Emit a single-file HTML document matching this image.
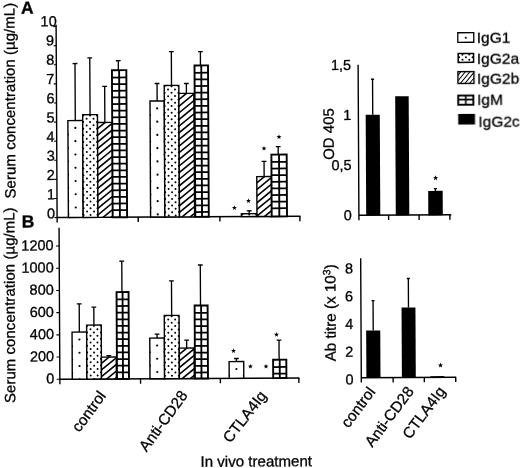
<!DOCTYPE html>
<html><head><meta charset="utf-8"><title>Figure</title>
<style>
html,body{margin:0;padding:0;background:#fff;}
svg{display:block;font-family:"Liberation Sans", sans-serif;}
text{stroke:#000;stroke-width:0.3px;}
</style></head>
<body>
<svg width="520" height="468" viewBox="0 0 520 468">
<rect width="520" height="468" fill="#fff"/>
<defs><filter id="soft" x="0" y="0" width="520" height="468" filterUnits="userSpaceOnUse"><feGaussianBlur stdDeviation="0.38"/></filter></defs>
<g filter="url(#soft)">
<g transform="rotate(-0.3 260.0 234.0)">
<path d="M57.2,23.6 V221.4 M56.6,216.5 H300.6" stroke="#000" stroke-width="1.4" fill="none"/>
<path d="M138.3,216.5 V221.4" stroke="#000" stroke-width="1.4"/>
<path d="M220.0,216.5 V221.4" stroke="#000" stroke-width="1.4"/>
<path d="M300.0,216.5 V221.4" stroke="#000" stroke-width="1.4"/>
<path d="M57.2,216.50 h-2.6" stroke="#000" stroke-width="1.1"/>
<text x="55.20" y="217.40" font-size="14.5" text-anchor="end" font-family='"Liberation Sans", sans-serif'>0</text>
<path d="M57.2,197.40 h-2.6" stroke="#000" stroke-width="1.1"/>
<text x="55.20" y="198.18" font-size="14.5" text-anchor="end" font-family='"Liberation Sans", sans-serif'>1</text>
<path d="M57.2,178.30 h-2.6" stroke="#000" stroke-width="1.1"/>
<text x="55.20" y="178.96" font-size="14.5" text-anchor="end" font-family='"Liberation Sans", sans-serif'>2</text>
<path d="M57.2,159.20 h-2.6" stroke="#000" stroke-width="1.1"/>
<text x="55.20" y="159.74" font-size="14.5" text-anchor="end" font-family='"Liberation Sans", sans-serif'>3</text>
<path d="M57.2,140.10 h-2.6" stroke="#000" stroke-width="1.1"/>
<text x="55.20" y="140.52" font-size="14.5" text-anchor="end" font-family='"Liberation Sans", sans-serif'>4</text>
<path d="M57.2,121.00 h-2.6" stroke="#000" stroke-width="1.1"/>
<text x="55.20" y="121.30" font-size="14.5" text-anchor="end" font-family='"Liberation Sans", sans-serif'>5</text>
<path d="M57.2,101.90 h-2.6" stroke="#000" stroke-width="1.1"/>
<text x="55.20" y="102.08" font-size="14.5" text-anchor="end" font-family='"Liberation Sans", sans-serif'>6</text>
<path d="M57.2,82.80 h-2.6" stroke="#000" stroke-width="1.1"/>
<text x="55.20" y="82.86" font-size="14.5" text-anchor="end" font-family='"Liberation Sans", sans-serif'>7</text>
<path d="M57.2,63.70 h-2.6" stroke="#000" stroke-width="1.1"/>
<text x="55.20" y="63.64" font-size="14.5" text-anchor="end" font-family='"Liberation Sans", sans-serif'>8</text>
<path d="M57.2,44.60 h-2.6" stroke="#000" stroke-width="1.1"/>
<text x="55.20" y="44.42" font-size="14.5" text-anchor="end" font-family='"Liberation Sans", sans-serif'>9</text>
<path d="M57.2,25.50 h-2.6" stroke="#000" stroke-width="1.1"/>
<text x="57.80" y="25.20" font-size="14.5" text-anchor="end" font-family='"Liberation Sans", sans-serif'>10</text>
<path d="M75.89,119.59 V62.59 M73.49,62.59 H78.29" stroke="#000" stroke-width="1.35" fill="none"/>
<rect x="68.49" y="119.59" width="14.80" height="96.91" fill="#fff"/>
<clipPath id="c1"><rect x="68.49" y="119.59" width="14.80" height="96.91"/></clipPath>
<g clip-path="url(#c1)">
<g fill="#000"><circle cx="75.89" cy="126.99" r="1.1"/><circle cx="68.49" cy="133.62" r="1.0"/><circle cx="83.29" cy="133.62" r="1.0"/><circle cx="75.89" cy="140.25" r="1.1"/><circle cx="68.49" cy="146.88" r="1.0"/><circle cx="83.29" cy="146.88" r="1.0"/><circle cx="75.89" cy="153.51" r="1.1"/><circle cx="68.49" cy="160.14" r="1.0"/><circle cx="83.29" cy="160.14" r="1.0"/><circle cx="75.89" cy="166.77" r="1.1"/><circle cx="68.49" cy="173.40" r="1.0"/><circle cx="83.29" cy="173.40" r="1.0"/><circle cx="75.89" cy="180.03" r="1.1"/><circle cx="68.49" cy="186.66" r="1.0"/><circle cx="83.29" cy="186.66" r="1.0"/><circle cx="75.89" cy="193.29" r="1.1"/><circle cx="68.49" cy="199.92" r="1.0"/><circle cx="83.29" cy="199.92" r="1.0"/><circle cx="75.89" cy="206.55" r="1.1"/><circle cx="68.49" cy="213.18" r="1.0"/><circle cx="83.29" cy="213.18" r="1.0"/></g>
</g>
<rect x="68.49" y="119.59" width="14.80" height="96.91" fill="none" stroke="#000" stroke-width="1.4"/>
<path d="M90.69,113.77 V56.97 M88.29,56.97 H93.09" stroke="#000" stroke-width="1.35" fill="none"/>
<rect x="83.29" y="113.77" width="14.80" height="102.73" fill="#fff"/>
<clipPath id="c2"><rect x="83.29" y="113.77" width="14.80" height="102.73"/></clipPath>
<g clip-path="url(#c2)">
<g fill="#000"><circle cx="83.79" cy="114.54" r="1.0"/><circle cx="90.69" cy="114.54" r="1.0"/><circle cx="97.59" cy="114.54" r="1.0"/><circle cx="87.24" cy="117.86" r="1.0"/><circle cx="94.14" cy="117.86" r="1.0"/><circle cx="83.79" cy="121.17" r="1.0"/><circle cx="90.69" cy="121.17" r="1.0"/><circle cx="97.59" cy="121.17" r="1.0"/><circle cx="87.24" cy="124.49" r="1.0"/><circle cx="94.14" cy="124.49" r="1.0"/><circle cx="83.79" cy="127.80" r="1.0"/><circle cx="90.69" cy="127.80" r="1.0"/><circle cx="97.59" cy="127.80" r="1.0"/><circle cx="87.24" cy="131.12" r="1.0"/><circle cx="94.14" cy="131.12" r="1.0"/><circle cx="83.79" cy="134.43" r="1.0"/><circle cx="90.69" cy="134.43" r="1.0"/><circle cx="97.59" cy="134.43" r="1.0"/><circle cx="87.24" cy="137.75" r="1.0"/><circle cx="94.14" cy="137.75" r="1.0"/><circle cx="83.79" cy="141.06" r="1.0"/><circle cx="90.69" cy="141.06" r="1.0"/><circle cx="97.59" cy="141.06" r="1.0"/><circle cx="87.24" cy="144.38" r="1.0"/><circle cx="94.14" cy="144.38" r="1.0"/><circle cx="83.79" cy="147.69" r="1.0"/><circle cx="90.69" cy="147.69" r="1.0"/><circle cx="97.59" cy="147.69" r="1.0"/><circle cx="87.24" cy="151.01" r="1.0"/><circle cx="94.14" cy="151.01" r="1.0"/><circle cx="83.79" cy="154.32" r="1.0"/><circle cx="90.69" cy="154.32" r="1.0"/><circle cx="97.59" cy="154.32" r="1.0"/><circle cx="87.24" cy="157.64" r="1.0"/><circle cx="94.14" cy="157.64" r="1.0"/><circle cx="83.79" cy="160.95" r="1.0"/><circle cx="90.69" cy="160.95" r="1.0"/><circle cx="97.59" cy="160.95" r="1.0"/><circle cx="87.24" cy="164.27" r="1.0"/><circle cx="94.14" cy="164.27" r="1.0"/><circle cx="83.79" cy="167.58" r="1.0"/><circle cx="90.69" cy="167.58" r="1.0"/><circle cx="97.59" cy="167.58" r="1.0"/><circle cx="87.24" cy="170.90" r="1.0"/><circle cx="94.14" cy="170.90" r="1.0"/><circle cx="83.79" cy="174.21" r="1.0"/><circle cx="90.69" cy="174.21" r="1.0"/><circle cx="97.59" cy="174.21" r="1.0"/><circle cx="87.24" cy="177.53" r="1.0"/><circle cx="94.14" cy="177.53" r="1.0"/><circle cx="83.79" cy="180.84" r="1.0"/><circle cx="90.69" cy="180.84" r="1.0"/><circle cx="97.59" cy="180.84" r="1.0"/><circle cx="87.24" cy="184.16" r="1.0"/><circle cx="94.14" cy="184.16" r="1.0"/><circle cx="83.79" cy="187.47" r="1.0"/><circle cx="90.69" cy="187.47" r="1.0"/><circle cx="97.59" cy="187.47" r="1.0"/><circle cx="87.24" cy="190.79" r="1.0"/><circle cx="94.14" cy="190.79" r="1.0"/><circle cx="83.79" cy="194.10" r="1.0"/><circle cx="90.69" cy="194.10" r="1.0"/><circle cx="97.59" cy="194.10" r="1.0"/><circle cx="87.24" cy="197.42" r="1.0"/><circle cx="94.14" cy="197.42" r="1.0"/><circle cx="83.79" cy="200.73" r="1.0"/><circle cx="90.69" cy="200.73" r="1.0"/><circle cx="97.59" cy="200.73" r="1.0"/><circle cx="87.24" cy="204.05" r="1.0"/><circle cx="94.14" cy="204.05" r="1.0"/><circle cx="83.79" cy="207.36" r="1.0"/><circle cx="90.69" cy="207.36" r="1.0"/><circle cx="97.59" cy="207.36" r="1.0"/><circle cx="87.24" cy="210.68" r="1.0"/><circle cx="94.14" cy="210.68" r="1.0"/><circle cx="83.79" cy="213.99" r="1.0"/><circle cx="90.69" cy="213.99" r="1.0"/><circle cx="97.59" cy="213.99" r="1.0"/><circle cx="87.24" cy="217.31" r="1.0"/><circle cx="94.14" cy="217.31" r="1.0"/></g>
</g>
<rect x="83.29" y="113.77" width="14.80" height="102.73" fill="none" stroke="#000" stroke-width="1.4"/>
<path d="M105.44,121.64 V85.54 M103.04,85.54 H107.84" stroke="#000" stroke-width="1.35" fill="none"/>
<rect x="98.09" y="121.64" width="14.70" height="94.86" fill="#fff"/>
<clipPath id="c3"><rect x="98.09" y="121.64" width="14.70" height="94.86"/></clipPath>
<g clip-path="url(#c3)">
<path d="M97.09,108.76 L113.79,95.23 M97.09,115.39 L113.79,101.86 M97.09,122.02 L113.79,108.49 M97.09,128.65 L113.79,115.12 M97.09,135.28 L113.79,121.75 M97.09,141.91 L113.79,128.38 M97.09,148.54 L113.79,135.01 M97.09,155.17 L113.79,141.64 M97.09,161.80 L113.79,148.27 M97.09,168.43 L113.79,154.90 M97.09,175.06 L113.79,161.53 M97.09,181.69 L113.79,168.16 M97.09,188.32 L113.79,174.79 M97.09,194.95 L113.79,181.42 M97.09,201.58 L113.79,188.05 M97.09,208.21 L113.79,194.68 M97.09,214.84 L113.79,201.31 M97.09,221.47 L113.79,207.94 M97.09,228.10 L113.79,214.57" stroke="#000" stroke-width="1.6" fill="none"/>
</g>
<rect x="98.09" y="121.64" width="14.70" height="94.86" fill="none" stroke="#000" stroke-width="1.4"/>
<path d="M119.19,69.47 V59.97 M116.79,59.97 H121.59" stroke="#000" stroke-width="1.35" fill="none"/>
<rect x="112.79" y="69.47" width="14.40" height="147.03" fill="#fff"/>
<clipPath id="c4"><rect x="112.79" y="69.47" width="14.40" height="147.03"/></clipPath>
<g clip-path="url(#c4)">
<path d="M119.99,69.47 V216.50" stroke="#000" stroke-width="1.85" fill="none"/>
<path d="M112.79,76.77 H127.19 M112.79,83.40 H127.19 M112.79,90.03 H127.19 M112.79,96.66 H127.19 M112.79,103.29 H127.19 M112.79,109.92 H127.19 M112.79,116.55 H127.19 M112.79,123.18 H127.19 M112.79,129.81 H127.19 M112.79,136.44 H127.19 M112.79,143.07 H127.19 M112.79,149.70 H127.19 M112.79,156.33 H127.19 M112.79,162.96 H127.19 M112.79,169.59 H127.19 M112.79,176.22 H127.19 M112.79,182.85 H127.19 M112.79,189.48 H127.19 M112.79,196.11 H127.19 M112.79,202.74 H127.19 M112.79,209.37 H127.19" stroke="#000" stroke-width="1.75" fill="none"/>
</g>
<rect x="112.79" y="69.47" width="14.40" height="147.03" fill="none" stroke="#000" stroke-width="1.9"/>
<path d="M157.84,100.45 V82.97 M155.44,82.97 H160.24" stroke="#000" stroke-width="1.35" fill="none"/>
<rect x="150.69" y="100.45" width="14.30" height="116.05" fill="#fff"/>
<clipPath id="c5"><rect x="150.69" y="100.45" width="14.30" height="116.05"/></clipPath>
<g clip-path="url(#c5)">
<g fill="#000"><circle cx="157.84" cy="107.85" r="1.1"/><circle cx="150.69" cy="114.48" r="1.0"/><circle cx="164.99" cy="114.48" r="1.0"/><circle cx="157.84" cy="121.11" r="1.1"/><circle cx="150.69" cy="127.74" r="1.0"/><circle cx="164.99" cy="127.74" r="1.0"/><circle cx="157.84" cy="134.37" r="1.1"/><circle cx="150.69" cy="141.00" r="1.0"/><circle cx="164.99" cy="141.00" r="1.0"/><circle cx="157.84" cy="147.63" r="1.1"/><circle cx="150.69" cy="154.26" r="1.0"/><circle cx="164.99" cy="154.26" r="1.0"/><circle cx="157.84" cy="160.89" r="1.1"/><circle cx="150.69" cy="167.52" r="1.0"/><circle cx="164.99" cy="167.52" r="1.0"/><circle cx="157.84" cy="174.15" r="1.1"/><circle cx="150.69" cy="180.78" r="1.0"/><circle cx="164.99" cy="180.78" r="1.0"/><circle cx="157.84" cy="187.41" r="1.1"/><circle cx="150.69" cy="194.04" r="1.0"/><circle cx="164.99" cy="194.04" r="1.0"/><circle cx="157.84" cy="200.67" r="1.1"/><circle cx="150.69" cy="207.30" r="1.0"/><circle cx="164.99" cy="207.30" r="1.0"/><circle cx="157.84" cy="213.93" r="1.1"/><circle cx="150.69" cy="220.56" r="1.0"/><circle cx="164.99" cy="220.56" r="1.0"/></g>
</g>
<rect x="150.69" y="100.45" width="14.30" height="116.05" fill="none" stroke="#000" stroke-width="1.4"/>
<path d="M172.29,84.94 V51.12 M169.89,51.12 H174.69" stroke="#000" stroke-width="1.35" fill="none"/>
<rect x="164.99" y="84.94" width="14.60" height="131.56" fill="#fff"/>
<clipPath id="c6"><rect x="164.99" y="84.94" width="14.60" height="131.56"/></clipPath>
<g clip-path="url(#c6)">
<g fill="#000"><circle cx="165.39" cy="85.71" r="1.0"/><circle cx="172.29" cy="85.71" r="1.0"/><circle cx="179.19" cy="85.71" r="1.0"/><circle cx="168.84" cy="89.03" r="1.0"/><circle cx="175.74" cy="89.03" r="1.0"/><circle cx="165.39" cy="92.34" r="1.0"/><circle cx="172.29" cy="92.34" r="1.0"/><circle cx="179.19" cy="92.34" r="1.0"/><circle cx="168.84" cy="95.66" r="1.0"/><circle cx="175.74" cy="95.66" r="1.0"/><circle cx="165.39" cy="98.97" r="1.0"/><circle cx="172.29" cy="98.97" r="1.0"/><circle cx="179.19" cy="98.97" r="1.0"/><circle cx="168.84" cy="102.29" r="1.0"/><circle cx="175.74" cy="102.29" r="1.0"/><circle cx="165.39" cy="105.60" r="1.0"/><circle cx="172.29" cy="105.60" r="1.0"/><circle cx="179.19" cy="105.60" r="1.0"/><circle cx="168.84" cy="108.92" r="1.0"/><circle cx="175.74" cy="108.92" r="1.0"/><circle cx="165.39" cy="112.23" r="1.0"/><circle cx="172.29" cy="112.23" r="1.0"/><circle cx="179.19" cy="112.23" r="1.0"/><circle cx="168.84" cy="115.55" r="1.0"/><circle cx="175.74" cy="115.55" r="1.0"/><circle cx="165.39" cy="118.86" r="1.0"/><circle cx="172.29" cy="118.86" r="1.0"/><circle cx="179.19" cy="118.86" r="1.0"/><circle cx="168.84" cy="122.18" r="1.0"/><circle cx="175.74" cy="122.18" r="1.0"/><circle cx="165.39" cy="125.49" r="1.0"/><circle cx="172.29" cy="125.49" r="1.0"/><circle cx="179.19" cy="125.49" r="1.0"/><circle cx="168.84" cy="128.81" r="1.0"/><circle cx="175.74" cy="128.81" r="1.0"/><circle cx="165.39" cy="132.12" r="1.0"/><circle cx="172.29" cy="132.12" r="1.0"/><circle cx="179.19" cy="132.12" r="1.0"/><circle cx="168.84" cy="135.44" r="1.0"/><circle cx="175.74" cy="135.44" r="1.0"/><circle cx="165.39" cy="138.75" r="1.0"/><circle cx="172.29" cy="138.75" r="1.0"/><circle cx="179.19" cy="138.75" r="1.0"/><circle cx="168.84" cy="142.07" r="1.0"/><circle cx="175.74" cy="142.07" r="1.0"/><circle cx="165.39" cy="145.38" r="1.0"/><circle cx="172.29" cy="145.38" r="1.0"/><circle cx="179.19" cy="145.38" r="1.0"/><circle cx="168.84" cy="148.70" r="1.0"/><circle cx="175.74" cy="148.70" r="1.0"/><circle cx="165.39" cy="152.01" r="1.0"/><circle cx="172.29" cy="152.01" r="1.0"/><circle cx="179.19" cy="152.01" r="1.0"/><circle cx="168.84" cy="155.33" r="1.0"/><circle cx="175.74" cy="155.33" r="1.0"/><circle cx="165.39" cy="158.64" r="1.0"/><circle cx="172.29" cy="158.64" r="1.0"/><circle cx="179.19" cy="158.64" r="1.0"/><circle cx="168.84" cy="161.96" r="1.0"/><circle cx="175.74" cy="161.96" r="1.0"/><circle cx="165.39" cy="165.27" r="1.0"/><circle cx="172.29" cy="165.27" r="1.0"/><circle cx="179.19" cy="165.27" r="1.0"/><circle cx="168.84" cy="168.59" r="1.0"/><circle cx="175.74" cy="168.59" r="1.0"/><circle cx="165.39" cy="171.90" r="1.0"/><circle cx="172.29" cy="171.90" r="1.0"/><circle cx="179.19" cy="171.90" r="1.0"/><circle cx="168.84" cy="175.22" r="1.0"/><circle cx="175.74" cy="175.22" r="1.0"/><circle cx="165.39" cy="178.53" r="1.0"/><circle cx="172.29" cy="178.53" r="1.0"/><circle cx="179.19" cy="178.53" r="1.0"/><circle cx="168.84" cy="181.85" r="1.0"/><circle cx="175.74" cy="181.85" r="1.0"/><circle cx="165.39" cy="185.16" r="1.0"/><circle cx="172.29" cy="185.16" r="1.0"/><circle cx="179.19" cy="185.16" r="1.0"/><circle cx="168.84" cy="188.48" r="1.0"/><circle cx="175.74" cy="188.48" r="1.0"/><circle cx="165.39" cy="191.79" r="1.0"/><circle cx="172.29" cy="191.79" r="1.0"/><circle cx="179.19" cy="191.79" r="1.0"/><circle cx="168.84" cy="195.11" r="1.0"/><circle cx="175.74" cy="195.11" r="1.0"/><circle cx="165.39" cy="198.42" r="1.0"/><circle cx="172.29" cy="198.42" r="1.0"/><circle cx="179.19" cy="198.42" r="1.0"/><circle cx="168.84" cy="201.74" r="1.0"/><circle cx="175.74" cy="201.74" r="1.0"/><circle cx="165.39" cy="205.05" r="1.0"/><circle cx="172.29" cy="205.05" r="1.0"/><circle cx="179.19" cy="205.05" r="1.0"/><circle cx="168.84" cy="208.37" r="1.0"/><circle cx="175.74" cy="208.37" r="1.0"/><circle cx="165.39" cy="211.68" r="1.0"/><circle cx="172.29" cy="211.68" r="1.0"/><circle cx="179.19" cy="211.68" r="1.0"/><circle cx="168.84" cy="215.00" r="1.0"/><circle cx="175.74" cy="215.00" r="1.0"/><circle cx="165.39" cy="218.31" r="1.0"/><circle cx="172.29" cy="218.31" r="1.0"/><circle cx="179.19" cy="218.31" r="1.0"/></g>
</g>
<rect x="164.99" y="84.94" width="14.60" height="131.56" fill="none" stroke="#000" stroke-width="1.4"/>
<path d="M187.14,93.00 V83.12 M184.74,83.12 H189.54" stroke="#000" stroke-width="1.35" fill="none"/>
<rect x="179.59" y="93.00" width="15.10" height="123.50" fill="#fff"/>
<clipPath id="c7"><rect x="179.59" y="93.00" width="15.10" height="123.50"/></clipPath>
<g clip-path="url(#c7)">
<path d="M178.59,80.12 L195.69,66.27 M178.59,86.75 L195.69,72.90 M178.59,93.38 L195.69,79.53 M178.59,100.01 L195.69,86.16 M178.59,106.64 L195.69,92.79 M178.59,113.27 L195.69,99.42 M178.59,119.90 L195.69,106.05 M178.59,126.53 L195.69,112.68 M178.59,133.16 L195.69,119.31 M178.59,139.79 L195.69,125.94 M178.59,146.42 L195.69,132.57 M178.59,153.05 L195.69,139.20 M178.59,159.68 L195.69,145.83 M178.59,166.31 L195.69,152.46 M178.59,172.94 L195.69,159.09 M178.59,179.57 L195.69,165.72 M178.59,186.20 L195.69,172.35 M178.59,192.83 L195.69,178.98 M178.59,199.46 L195.69,185.61 M178.59,206.09 L195.69,192.24 M178.59,212.72 L195.69,198.87 M178.59,219.35 L195.69,205.50 M178.59,225.98 L195.69,212.13" stroke="#000" stroke-width="1.6" fill="none"/>
</g>
<rect x="179.59" y="93.00" width="15.10" height="123.50" fill="none" stroke="#000" stroke-width="1.4"/>
<path d="M201.34,65.15 V51.28 M198.94,51.28 H203.74" stroke="#000" stroke-width="1.35" fill="none"/>
<rect x="195.39" y="65.15" width="13.50" height="151.35" fill="#fff"/>
<clipPath id="c8"><rect x="195.39" y="65.15" width="13.50" height="151.35"/></clipPath>
<g clip-path="url(#c8)">
<path d="M202.14,65.15 V216.50" stroke="#000" stroke-width="1.85" fill="none"/>
<path d="M195.39,72.45 H208.89 M195.39,79.08 H208.89 M195.39,85.71 H208.89 M195.39,92.34 H208.89 M195.39,98.97 H208.89 M195.39,105.60 H208.89 M195.39,112.23 H208.89 M195.39,118.86 H208.89 M195.39,125.49 H208.89 M195.39,132.12 H208.89 M195.39,138.75 H208.89 M195.39,145.38 H208.89 M195.39,152.01 H208.89 M195.39,158.64 H208.89 M195.39,165.27 H208.89 M195.39,171.90 H208.89 M195.39,178.53 H208.89 M195.39,185.16 H208.89 M195.39,191.79 H208.89 M195.39,198.42 H208.89 M195.39,205.05 H208.89 M195.39,211.68 H208.89" stroke="#000" stroke-width="1.75" fill="none"/>
</g>
<rect x="195.39" y="65.15" width="13.50" height="151.35" fill="none" stroke="#000" stroke-width="1.9"/>
<path d="M249.29,213.59 V210.74 M246.89,210.74 H251.69" stroke="#000" stroke-width="1.35" fill="none"/>
<rect x="241.49" y="213.59" width="15.60" height="2.91" fill="#fff"/>
<clipPath id="c9"><rect x="241.49" y="213.59" width="15.60" height="2.91"/></clipPath>
<g clip-path="url(#c9)">
<g fill="#000"><circle cx="242.39" cy="214.36" r="1.0"/><circle cx="249.29" cy="214.36" r="1.0"/><circle cx="256.19" cy="214.36" r="1.0"/><circle cx="245.84" cy="217.68" r="1.0"/><circle cx="252.74" cy="217.68" r="1.0"/></g>
</g>
<rect x="241.49" y="213.59" width="15.60" height="2.91" fill="none" stroke="#000" stroke-width="1.4"/>
<path d="M264.44,176.62 V161.42 M262.04,161.42 H266.84" stroke="#000" stroke-width="1.35" fill="none"/>
<rect x="257.09" y="176.62" width="14.70" height="39.88" fill="#fff"/>
<clipPath id="c10"><rect x="257.09" y="176.62" width="14.70" height="39.88"/></clipPath>
<g clip-path="url(#c10)">
<path d="M256.09,163.74 L272.79,150.22 M256.09,170.37 L272.79,156.85 M256.09,177.00 L272.79,163.48 M256.09,183.63 L272.79,170.11 M256.09,190.26 L272.79,176.74 M256.09,196.89 L272.79,183.37 M256.09,203.52 L272.79,190.00 M256.09,210.15 L272.79,196.63 M256.09,216.78 L272.79,203.26 M256.09,223.41 L272.79,209.89 M256.09,230.04 L272.79,216.52" stroke="#000" stroke-width="1.6" fill="none"/>
</g>
<rect x="257.09" y="176.62" width="14.70" height="39.88" fill="none" stroke="#000" stroke-width="1.4"/>
<path d="M278.64,154.66 V146.68 M276.24,146.68 H281.04" stroke="#000" stroke-width="1.35" fill="none"/>
<rect x="271.79" y="154.66" width="15.30" height="61.84" fill="#fff"/>
<clipPath id="c11"><rect x="271.79" y="154.66" width="15.30" height="61.84"/></clipPath>
<g clip-path="url(#c11)">
<path d="M279.44,154.66 V216.50" stroke="#000" stroke-width="1.85" fill="none"/>
<path d="M271.79,161.96 H287.09 M271.79,168.59 H287.09 M271.79,175.22 H287.09 M271.79,181.85 H287.09 M271.79,188.48 H287.09 M271.79,195.11 H287.09 M271.79,201.74 H287.09 M271.79,208.37 H287.09" stroke="#000" stroke-width="1.75" fill="none"/>
</g>
<rect x="271.79" y="154.66" width="15.30" height="61.84" fill="none" stroke="#000" stroke-width="1.9"/>
<polygon points="234.54,205.27 235.18,206.98 237.01,207.06 235.58,208.20 236.06,209.97 234.54,208.96 233.01,209.97 233.50,208.20 232.06,207.06 233.89,206.98" fill="#000"/>
<polygon points="248.67,198.34 249.31,200.06 251.15,200.14 249.71,201.28 250.20,203.04 248.67,202.03 247.14,203.04 247.63,201.28 246.20,200.14 248.03,200.06" fill="#000"/>
<polygon points="264.45,145.92 265.09,147.64 266.92,147.72 265.49,148.86 265.98,150.63 264.45,149.61 262.92,150.63 263.41,148.86 261.97,147.72 263.81,147.64" fill="#000"/>
<polygon points="279.51,134.50 280.15,136.22 281.98,136.30 280.55,137.44 281.04,139.20 279.51,138.19 277.98,139.20 278.47,137.44 277.03,136.30 278.87,136.22" fill="#000"/>
<text x="22.16" y="12.55" font-size="17.5" text-anchor="start" font-weight="bold" font-family='"Liberation Sans", sans-serif' fill="#000">A</text>
<text x="15.70" y="99.32" font-size="14.9" text-anchor="middle" font-weight="normal" font-family='"Liberation Sans", sans-serif' fill="#000" transform="rotate(-90 15.70 99.32)" textLength="195.6" lengthAdjust="spacing">Serum concentration (&#181;g/mL)</text>
<path d="M59.1,226.8 V383.09999999999997 M58.5,378.2 H298.7" stroke="#000" stroke-width="1.4" fill="none"/>
<path d="M139.8,378.2 V383.09999999999997" stroke="#000" stroke-width="1.4"/>
<path d="M219.6,378.2 V383.09999999999997" stroke="#000" stroke-width="1.4"/>
<path d="M298.1,378.2 V383.09999999999997" stroke="#000" stroke-width="1.4"/>
<path d="M59.1,378.20 h-3.2" stroke="#000" stroke-width="1.1"/>
<text x="53.50" y="382.40" font-size="14.5" text-anchor="end" font-family='"Liberation Sans", sans-serif'>0</text>
<path d="M59.1,356.00 h-3.2" stroke="#000" stroke-width="1.1"/>
<text x="53.50" y="360.20" font-size="14.5" text-anchor="end" font-family='"Liberation Sans", sans-serif'>200</text>
<path d="M59.1,333.80 h-3.2" stroke="#000" stroke-width="1.1"/>
<text x="53.50" y="338.00" font-size="14.5" text-anchor="end" font-family='"Liberation Sans", sans-serif'>400</text>
<path d="M59.1,311.60 h-3.2" stroke="#000" stroke-width="1.1"/>
<text x="53.50" y="315.80" font-size="14.5" text-anchor="end" font-family='"Liberation Sans", sans-serif'>600</text>
<path d="M59.1,289.40 h-3.2" stroke="#000" stroke-width="1.1"/>
<text x="53.50" y="293.60" font-size="14.5" text-anchor="end" font-family='"Liberation Sans", sans-serif'>800</text>
<path d="M59.1,267.20 h-3.2" stroke="#000" stroke-width="1.1"/>
<text x="53.50" y="271.40" font-size="14.5" text-anchor="end" font-family='"Liberation Sans", sans-serif'>1000</text>
<path d="M59.1,245.00 h-3.2" stroke="#000" stroke-width="1.1"/>
<text x="53.50" y="249.20" font-size="14.5" text-anchor="end" font-family='"Liberation Sans", sans-serif'>1200</text>
<path d="M78.84,331.15 V302.95 M76.44,302.95 H81.24" stroke="#000" stroke-width="1.35" fill="none"/>
<rect x="71.54" y="331.15" width="14.60" height="47.04" fill="#fff"/>
<clipPath id="c12"><rect x="71.54" y="331.15" width="14.60" height="47.04"/></clipPath>
<g clip-path="url(#c12)">
<g fill="#000"><circle cx="78.84" cy="338.55" r="1.1"/><circle cx="71.54" cy="345.18" r="1.0"/><circle cx="86.14" cy="345.18" r="1.0"/><circle cx="78.84" cy="351.81" r="1.1"/><circle cx="71.54" cy="358.44" r="1.0"/><circle cx="86.14" cy="358.44" r="1.0"/><circle cx="78.84" cy="365.07" r="1.1"/><circle cx="71.54" cy="371.70" r="1.0"/><circle cx="86.14" cy="371.70" r="1.0"/><circle cx="78.84" cy="378.33" r="1.1"/><circle cx="71.54" cy="384.96" r="1.0"/><circle cx="86.14" cy="384.96" r="1.0"/></g>
</g>
<rect x="71.54" y="331.15" width="14.60" height="47.04" fill="none" stroke="#000" stroke-width="1.4"/>
<path d="M93.44,324.23 V306.23 M91.04,306.23 H95.84" stroke="#000" stroke-width="1.35" fill="none"/>
<rect x="86.14" y="324.23" width="14.60" height="53.97" fill="#fff"/>
<clipPath id="c13"><rect x="86.14" y="324.23" width="14.60" height="53.97"/></clipPath>
<g clip-path="url(#c13)">
<g fill="#000"><circle cx="86.54" cy="325.00" r="1.0"/><circle cx="93.44" cy="325.00" r="1.0"/><circle cx="100.34" cy="325.00" r="1.0"/><circle cx="89.99" cy="328.32" r="1.0"/><circle cx="96.89" cy="328.32" r="1.0"/><circle cx="86.54" cy="331.63" r="1.0"/><circle cx="93.44" cy="331.63" r="1.0"/><circle cx="100.34" cy="331.63" r="1.0"/><circle cx="89.99" cy="334.95" r="1.0"/><circle cx="96.89" cy="334.95" r="1.0"/><circle cx="86.54" cy="338.26" r="1.0"/><circle cx="93.44" cy="338.26" r="1.0"/><circle cx="100.34" cy="338.26" r="1.0"/><circle cx="89.99" cy="341.58" r="1.0"/><circle cx="96.89" cy="341.58" r="1.0"/><circle cx="86.54" cy="344.89" r="1.0"/><circle cx="93.44" cy="344.89" r="1.0"/><circle cx="100.34" cy="344.89" r="1.0"/><circle cx="89.99" cy="348.21" r="1.0"/><circle cx="96.89" cy="348.21" r="1.0"/><circle cx="86.54" cy="351.52" r="1.0"/><circle cx="93.44" cy="351.52" r="1.0"/><circle cx="100.34" cy="351.52" r="1.0"/><circle cx="89.99" cy="354.84" r="1.0"/><circle cx="96.89" cy="354.84" r="1.0"/><circle cx="86.54" cy="358.15" r="1.0"/><circle cx="93.44" cy="358.15" r="1.0"/><circle cx="100.34" cy="358.15" r="1.0"/><circle cx="89.99" cy="361.47" r="1.0"/><circle cx="96.89" cy="361.47" r="1.0"/><circle cx="86.54" cy="364.78" r="1.0"/><circle cx="93.44" cy="364.78" r="1.0"/><circle cx="100.34" cy="364.78" r="1.0"/><circle cx="89.99" cy="368.10" r="1.0"/><circle cx="96.89" cy="368.10" r="1.0"/><circle cx="86.54" cy="371.41" r="1.0"/><circle cx="93.44" cy="371.41" r="1.0"/><circle cx="100.34" cy="371.41" r="1.0"/><circle cx="89.99" cy="374.73" r="1.0"/><circle cx="96.89" cy="374.73" r="1.0"/><circle cx="86.54" cy="378.04" r="1.0"/><circle cx="93.44" cy="378.04" r="1.0"/><circle cx="100.34" cy="378.04" r="1.0"/></g>
</g>
<rect x="86.14" y="324.23" width="14.60" height="53.97" fill="none" stroke="#000" stroke-width="1.4"/>
<path d="M108.19,356.31 V354.81 M105.79,354.81 H110.59" stroke="#000" stroke-width="1.35" fill="none"/>
<rect x="100.74" y="356.31" width="14.90" height="21.89" fill="#fff"/>
<clipPath id="c14"><rect x="100.74" y="356.31" width="14.90" height="21.89"/></clipPath>
<g clip-path="url(#c14)">
<path d="M99.74,343.43 L116.64,329.74 M99.74,350.06 L116.64,336.37 M99.74,356.69 L116.64,343.00 M99.74,363.32 L116.64,349.63 M99.74,369.95 L116.64,356.26 M99.74,376.58 L116.64,362.89 M99.74,383.21 L116.64,369.52 M99.74,389.84 L116.64,376.15" stroke="#000" stroke-width="1.6" fill="none"/>
</g>
<rect x="100.74" y="356.31" width="14.90" height="21.89" fill="none" stroke="#000" stroke-width="1.4"/>
<path d="M121.64,291.38 V260.48 M119.24,260.48 H124.04" stroke="#000" stroke-width="1.35" fill="none"/>
<rect x="116.24" y="291.38" width="12.00" height="86.82" fill="#fff"/>
<clipPath id="c15"><rect x="116.24" y="291.38" width="12.00" height="86.82"/></clipPath>
<g clip-path="url(#c15)">
<path d="M122.24,291.38 V378.20" stroke="#000" stroke-width="1.85" fill="none"/>
<path d="M116.24,298.68 H128.24 M116.24,305.31 H128.24 M116.24,311.94 H128.24 M116.24,318.57 H128.24 M116.24,325.20 H128.24 M116.24,331.83 H128.24 M116.24,338.46 H128.24 M116.24,345.09 H128.24 M116.24,351.72 H128.24 M116.24,358.35 H128.24 M116.24,364.98 H128.24 M116.24,371.61 H128.24" stroke="#000" stroke-width="1.75" fill="none"/>
</g>
<rect x="116.24" y="291.38" width="12.00" height="86.82" fill="none" stroke="#000" stroke-width="1.9"/>
<path d="M156.54,337.56 V333.56 M154.14,333.56 H158.94" stroke="#000" stroke-width="1.35" fill="none"/>
<rect x="149.24" y="337.56" width="14.60" height="40.64" fill="#fff"/>
<clipPath id="c16"><rect x="149.24" y="337.56" width="14.60" height="40.64"/></clipPath>
<g clip-path="url(#c16)">
<g fill="#000"><circle cx="156.54" cy="344.96" r="1.1"/><circle cx="149.24" cy="351.59" r="1.0"/><circle cx="163.84" cy="351.59" r="1.0"/><circle cx="156.54" cy="358.22" r="1.1"/><circle cx="149.24" cy="364.85" r="1.0"/><circle cx="163.84" cy="364.85" r="1.0"/><circle cx="156.54" cy="371.48" r="1.1"/><circle cx="149.24" cy="378.11" r="1.0"/><circle cx="163.84" cy="378.11" r="1.0"/></g>
</g>
<rect x="149.24" y="337.56" width="14.60" height="40.64" fill="none" stroke="#000" stroke-width="1.4"/>
<path d="M171.24,314.94 V280.44 M168.84,280.44 H173.64" stroke="#000" stroke-width="1.35" fill="none"/>
<rect x="163.84" y="314.94" width="14.80" height="63.26" fill="#fff"/>
<clipPath id="c17"><rect x="163.84" y="314.94" width="14.80" height="63.26"/></clipPath>
<g clip-path="url(#c17)">
<g fill="#000"><circle cx="164.34" cy="315.71" r="1.0"/><circle cx="171.24" cy="315.71" r="1.0"/><circle cx="178.14" cy="315.71" r="1.0"/><circle cx="167.79" cy="319.02" r="1.0"/><circle cx="174.69" cy="319.02" r="1.0"/><circle cx="164.34" cy="322.34" r="1.0"/><circle cx="171.24" cy="322.34" r="1.0"/><circle cx="178.14" cy="322.34" r="1.0"/><circle cx="167.79" cy="325.65" r="1.0"/><circle cx="174.69" cy="325.65" r="1.0"/><circle cx="164.34" cy="328.97" r="1.0"/><circle cx="171.24" cy="328.97" r="1.0"/><circle cx="178.14" cy="328.97" r="1.0"/><circle cx="167.79" cy="332.28" r="1.0"/><circle cx="174.69" cy="332.28" r="1.0"/><circle cx="164.34" cy="335.60" r="1.0"/><circle cx="171.24" cy="335.60" r="1.0"/><circle cx="178.14" cy="335.60" r="1.0"/><circle cx="167.79" cy="338.91" r="1.0"/><circle cx="174.69" cy="338.91" r="1.0"/><circle cx="164.34" cy="342.23" r="1.0"/><circle cx="171.24" cy="342.23" r="1.0"/><circle cx="178.14" cy="342.23" r="1.0"/><circle cx="167.79" cy="345.54" r="1.0"/><circle cx="174.69" cy="345.54" r="1.0"/><circle cx="164.34" cy="348.86" r="1.0"/><circle cx="171.24" cy="348.86" r="1.0"/><circle cx="178.14" cy="348.86" r="1.0"/><circle cx="167.79" cy="352.17" r="1.0"/><circle cx="174.69" cy="352.17" r="1.0"/><circle cx="164.34" cy="355.49" r="1.0"/><circle cx="171.24" cy="355.49" r="1.0"/><circle cx="178.14" cy="355.49" r="1.0"/><circle cx="167.79" cy="358.80" r="1.0"/><circle cx="174.69" cy="358.80" r="1.0"/><circle cx="164.34" cy="362.12" r="1.0"/><circle cx="171.24" cy="362.12" r="1.0"/><circle cx="178.14" cy="362.12" r="1.0"/><circle cx="167.79" cy="365.43" r="1.0"/><circle cx="174.69" cy="365.43" r="1.0"/><circle cx="164.34" cy="368.75" r="1.0"/><circle cx="171.24" cy="368.75" r="1.0"/><circle cx="178.14" cy="368.75" r="1.0"/><circle cx="167.79" cy="372.06" r="1.0"/><circle cx="174.69" cy="372.06" r="1.0"/><circle cx="164.34" cy="375.38" r="1.0"/><circle cx="171.24" cy="375.38" r="1.0"/><circle cx="178.14" cy="375.38" r="1.0"/><circle cx="167.79" cy="378.69" r="1.0"/><circle cx="174.69" cy="378.69" r="1.0"/></g>
</g>
<rect x="163.84" y="314.94" width="14.80" height="63.26" fill="none" stroke="#000" stroke-width="1.4"/>
<path d="M186.09,347.72 V339.72 M183.69,339.72 H188.49" stroke="#000" stroke-width="1.35" fill="none"/>
<rect x="178.64" y="347.72" width="14.90" height="30.48" fill="#fff"/>
<clipPath id="c18"><rect x="178.64" y="347.72" width="14.90" height="30.48"/></clipPath>
<g clip-path="url(#c18)">
<path d="M177.64,334.84 L194.54,321.15 M177.64,341.47 L194.54,327.78 M177.64,348.10 L194.54,334.41 M177.64,354.73 L194.54,341.04 M177.64,361.36 L194.54,347.67 M177.64,367.99 L194.54,354.30 M177.64,374.62 L194.54,360.93 M177.64,381.25 L194.54,367.56 M177.64,387.88 L194.54,374.19" stroke="#000" stroke-width="1.6" fill="none"/>
</g>
<rect x="178.64" y="347.72" width="14.90" height="30.48" fill="none" stroke="#000" stroke-width="1.4"/>
<path d="M200.14,305.19 V264.69 M197.74,264.69 H202.54" stroke="#000" stroke-width="1.35" fill="none"/>
<rect x="194.24" y="305.19" width="13.00" height="73.01" fill="#fff"/>
<clipPath id="c19"><rect x="194.24" y="305.19" width="13.00" height="73.01"/></clipPath>
<g clip-path="url(#c19)">
<path d="M200.74,305.19 V378.20" stroke="#000" stroke-width="1.85" fill="none"/>
<path d="M194.24,312.49 H207.24 M194.24,319.12 H207.24 M194.24,325.75 H207.24 M194.24,332.38 H207.24 M194.24,339.01 H207.24 M194.24,345.64 H207.24 M194.24,352.27 H207.24 M194.24,358.90 H207.24 M194.24,365.53 H207.24 M194.24,372.16 H207.24" stroke="#000" stroke-width="1.75" fill="none"/>
</g>
<rect x="194.24" y="305.19" width="13.00" height="73.01" fill="none" stroke="#000" stroke-width="1.9"/>
<path d="M235.74,361.48 V358.38 M233.34,358.38 H238.14" stroke="#000" stroke-width="1.35" fill="none"/>
<rect x="228.44" y="361.48" width="14.60" height="16.72" fill="#fff"/>
<clipPath id="c20"><rect x="228.44" y="361.48" width="14.60" height="16.72"/></clipPath>
<g clip-path="url(#c20)">
<g fill="#000"><circle cx="235.74" cy="368.88" r="1.1"/><circle cx="228.44" cy="375.51" r="1.0"/><circle cx="243.04" cy="375.51" r="1.0"/></g>
</g>
<rect x="228.44" y="361.48" width="14.60" height="16.72" fill="none" stroke="#000" stroke-width="1.4"/>
<path d="M278.45,359.80 V340.20 M276.05,340.20 H280.85" stroke="#000" stroke-width="1.35" fill="none"/>
<rect x="272.45" y="359.80" width="13.20" height="18.40" fill="#fff"/>
<clipPath id="c21"><rect x="272.45" y="359.80" width="13.20" height="18.40"/></clipPath>
<g clip-path="url(#c21)">
<path d="M279.05,359.80 V378.20" stroke="#000" stroke-width="1.85" fill="none"/>
<path d="M272.45,367.10 H285.65 M272.45,373.73 H285.65" stroke="#000" stroke-width="1.75" fill="none"/>
</g>
<rect x="272.45" y="359.80" width="13.20" height="18.40" fill="none" stroke="#000" stroke-width="1.9"/>
<polygon points="232.89,348.06 233.53,349.78 235.36,349.86 233.93,351.00 234.42,352.76 232.89,351.75 231.36,352.76 231.85,351.00 230.42,349.86 232.25,349.78" fill="#000"/>
<polygon points="249.71,363.85 250.35,365.56 252.18,365.64 250.74,366.79 251.23,368.55 249.71,367.54 248.18,368.55 248.67,366.79 247.23,365.64 249.06,365.56" fill="#000"/>
<polygon points="265.31,363.93 265.95,365.65 267.78,365.73 266.34,366.87 266.83,368.63 265.31,367.62 263.78,368.63 264.27,366.87 262.83,365.73 264.66,365.65" fill="#000"/>
<polygon points="275.97,332.09 276.61,333.80 278.45,333.88 277.01,335.02 277.50,336.79 275.97,335.78 274.44,336.79 274.93,335.02 273.50,333.88 275.33,333.80" fill="#000"/>
<text x="21.84" y="226.15" font-size="17.5" text-anchor="start" font-weight="bold" font-family='"Liberation Sans", sans-serif' fill="#000">B</text>
<text x="14.43" y="303.92" font-size="14.9" text-anchor="middle" font-weight="normal" font-family='"Liberation Sans", sans-serif' fill="#000" transform="rotate(-90 14.43 303.92)" textLength="195.6" lengthAdjust="spacing">Serum concentration (&#181;g/mL)</text>
<text x="105.65" y="395.19" font-size="15.3" text-anchor="end" font-weight="normal" font-family='"Liberation Sans", sans-serif' fill="#000" transform="rotate(-53.5 105.65 395.19)">control</text>
<text x="187.46" y="395.12" font-size="15.3" text-anchor="end" font-weight="normal" font-family='"Liberation Sans", sans-serif' fill="#000" transform="rotate(-53.5 187.46 395.12)">Anti-CD28</text>
<text x="266.45" y="396.04" font-size="15.3" text-anchor="end" font-weight="normal" font-family='"Liberation Sans", sans-serif' fill="#000" transform="rotate(-52 266.45 396.04)">CTLA4Ig</text>
<text x="199.28" y="466.49" font-size="15.1" text-anchor="start" font-weight="normal" font-family='"Liberation Sans", sans-serif' fill="#000">In vivo treatment</text>
<path d="M359.00,65.22 V220.72 M359.00,215.82 H451.40" stroke="#000" stroke-width="1.4" fill="none"/>
<path d="M388.70,215.82 V220.72" stroke="#000" stroke-width="1.4"/>
<path d="M419.20,215.82 V220.72" stroke="#000" stroke-width="1.4"/>
<path d="M450.00,215.82 V220.72" stroke="#000" stroke-width="1.4"/>
<text x="352.00" y="220.62" font-size="14.5" text-anchor="end" font-family='"Liberation Sans", sans-serif'>0</text>
<text x="352.00" y="170.57" font-size="14.5" text-anchor="end" font-family='"Liberation Sans", sans-serif'>0,5</text>
<text x="352.00" y="120.52" font-size="14.5" text-anchor="end" font-family='"Liberation Sans", sans-serif'>1</text>
<text x="352.00" y="70.47" font-size="14.5" text-anchor="end" font-family='"Liberation Sans", sans-serif'>1,5</text>
<path d="M373.35,115.39 V79.86 M371.85,79.86 H374.85" stroke="#000" stroke-width="1.35" fill="none"/>
<rect x="366.30" y="115.39" width="14.10" height="100.60" fill="#000"/>
<rect x="395.90" y="97.03" width="13.50" height="119.12" fill="#000"/>
<path d="M435.64,191.80 V189.49 M434.14,189.49 H437.14" stroke="#000" stroke-width="1.35" fill="none"/>
<rect x="428.40" y="191.80" width="14.50" height="24.52" fill="#000"/>
<polygon points="435.89,176.22 436.56,178.00 438.46,178.09 436.97,179.27 437.48,181.10 435.89,180.05 434.30,181.10 434.81,179.27 433.32,178.09 435.22,178.00" fill="#000"/>
<text x="334.32" y="134.39" font-size="15" text-anchor="middle" font-weight="normal" font-family='"Liberation Sans", sans-serif' fill="#000" transform="rotate(-90 334.32 134.39)">OD 405</text>
<path d="M360.55,258.73 V383.13 M360.55,378.23 H455.45" stroke="#000" stroke-width="1.4" fill="none"/>
<path d="M392.35,378.23 V383.13" stroke="#000" stroke-width="1.4"/>
<path d="M423.55,378.23 V383.13" stroke="#000" stroke-width="1.4"/>
<path d="M454.95,378.23 V383.13" stroke="#000" stroke-width="1.4"/>
<text x="352.75" y="384.83" font-size="14.5" text-anchor="end" font-family='"Liberation Sans", sans-serif'>0</text>
<text x="352.75" y="357.13" font-size="14.5" text-anchor="end" font-family='"Liberation Sans", sans-serif'>2</text>
<text x="352.75" y="329.43" font-size="14.5" text-anchor="end" font-family='"Liberation Sans", sans-serif'>4</text>
<text x="352.75" y="301.73" font-size="14.5" text-anchor="end" font-family='"Liberation Sans", sans-serif'>6</text>
<text x="352.75" y="274.03" font-size="14.5" text-anchor="end" font-family='"Liberation Sans", sans-serif'>8</text>
<path d="M372.70,331.14 V301.23 M371.20,301.23 H374.20" stroke="#000" stroke-width="1.35" fill="none"/>
<rect x="365.65" y="331.14" width="14.10" height="46.95" fill="#000"/>
<path d="M408.10,308.34 V279.25 M406.60,279.25 H409.60" stroke="#000" stroke-width="1.35" fill="none"/>
<rect x="401.15" y="308.34" width="13.90" height="69.94" fill="#000"/>
<rect x="429.55" y="377.04" width="14.00" height="1.38" fill="#000"/>
<polygon points="439.81,363.54 440.48,365.33 442.38,365.41 440.89,366.59 441.40,368.43 439.81,367.38 438.22,368.43 438.73,366.59 437.24,365.41 439.14,365.33" fill="#000"/>
<text x="335.19" y="313.19" font-size="15.2" text-anchor="middle" font-weight="normal" font-family='"Liberation Sans", sans-serif' fill="#000" transform="rotate(-90 335.19 313.19)">Ab titre (x 10<tspan font-size="10.5" dy="-5.2">3</tspan><tspan dy="5.2">)</tspan></text>
<text x="375.17" y="392.61" font-size="15.3" text-anchor="end" font-weight="normal" font-family='"Liberation Sans", sans-serif' fill="#000" transform="rotate(-53 375.17 392.61)">control</text>
<text x="413.67" y="392.31" font-size="15.3" text-anchor="end" font-weight="normal" font-family='"Liberation Sans", sans-serif' fill="#000" transform="rotate(-53 413.67 392.31)">Anti-CD28</text>
<text x="445.17" y="392.47" font-size="15.3" text-anchor="end" font-weight="normal" font-family='"Liberation Sans", sans-serif' fill="#000" transform="rotate(-53 445.17 392.47)">CTLA4Ig</text>
<g transform="translate(0.81 1.09)">
<rect x="458.0" y="32.7" width="16.0" height="9.6" fill="#fff" stroke="#000" stroke-width="1.3"/>
<circle cx="466.0" cy="37.7" r="1.05" fill="#000"/>
<rect x="458.3" y="53.5" width="15.4" height="8.9" fill="#fff"/>
<clipPath id="c22"><rect x="458.30" y="53.50" width="15.40" height="8.90"/></clipPath>
<g clip-path="url(#c22)">
<g fill="#000"><circle cx="462.60" cy="54.60" r="1.0"/><circle cx="469.40" cy="54.60" r="1.0"/><circle cx="459.30" cy="57.20" r="1.0"/><circle cx="466.00" cy="57.20" r="1.0"/><circle cx="472.70" cy="57.20" r="1.0"/><circle cx="462.60" cy="59.80" r="1.0"/><circle cx="469.40" cy="59.80" r="1.0"/><circle cx="459.30" cy="62.40" r="0.9"/><circle cx="466.00" cy="62.60" r="0.9"/><circle cx="472.70" cy="62.40" r="0.9"/></g>
</g>
<rect x="458.3" y="53.5" width="15.4" height="8.9" fill="none" stroke="#000" stroke-width="1.5"/>
<rect x="458.0" y="71.6" width="16.0" height="11.8" fill="#fff"/>
<clipPath id="c23"><rect x="458.00" y="71.60" width="16.00" height="11.80"/></clipPath>
<g clip-path="url(#c23)">
<path d="M446.00,84.00 L456.83,71.00 M450.60,84.00 L461.43,71.00 M455.20,84.00 L466.03,71.00 M459.80,84.00 L470.63,71.00 M464.40,84.00 L475.23,71.00 M469.00,84.00 L479.83,71.00 M473.60,84.00 L484.43,71.00" stroke="#000" stroke-width="1.0" fill="none"/>
</g>
<rect x="458.0" y="71.6" width="16.0" height="11.8" fill="none" stroke="#000" stroke-width="1.4"/>
<rect x="458.1" y="95.5" width="15.200000000000001" height="9.2" fill="#fff" stroke="#000" stroke-width="1.9"/>
<path d="M465.7,95.6 v9.0 M458.0,99.5 h15.4" stroke="#000" stroke-width="1.6"/>
<rect x="458.0" y="113.9" width="16.8" height="10.6" fill="#000"/>
<text x="477.0" y="42.8" font-size="15.5" font-family='"Liberation Sans", sans-serif'>IgG1</text>
<text x="477.0" y="63.6" font-size="15.5" font-family='"Liberation Sans", sans-serif'>IgG2a</text>
<text x="477.0" y="83.8" font-size="15.5" font-family='"Liberation Sans", sans-serif'>IgG2b</text>
<text x="477.0" y="105.2" font-size="15.5" font-family='"Liberation Sans", sans-serif'>IgM</text>
<text x="478.2" y="126.80000000000001" font-size="15.5" font-family='"Liberation Sans", sans-serif'>IgG2c</text>
</g>
</g>
</g>
</svg>
</body></html>
